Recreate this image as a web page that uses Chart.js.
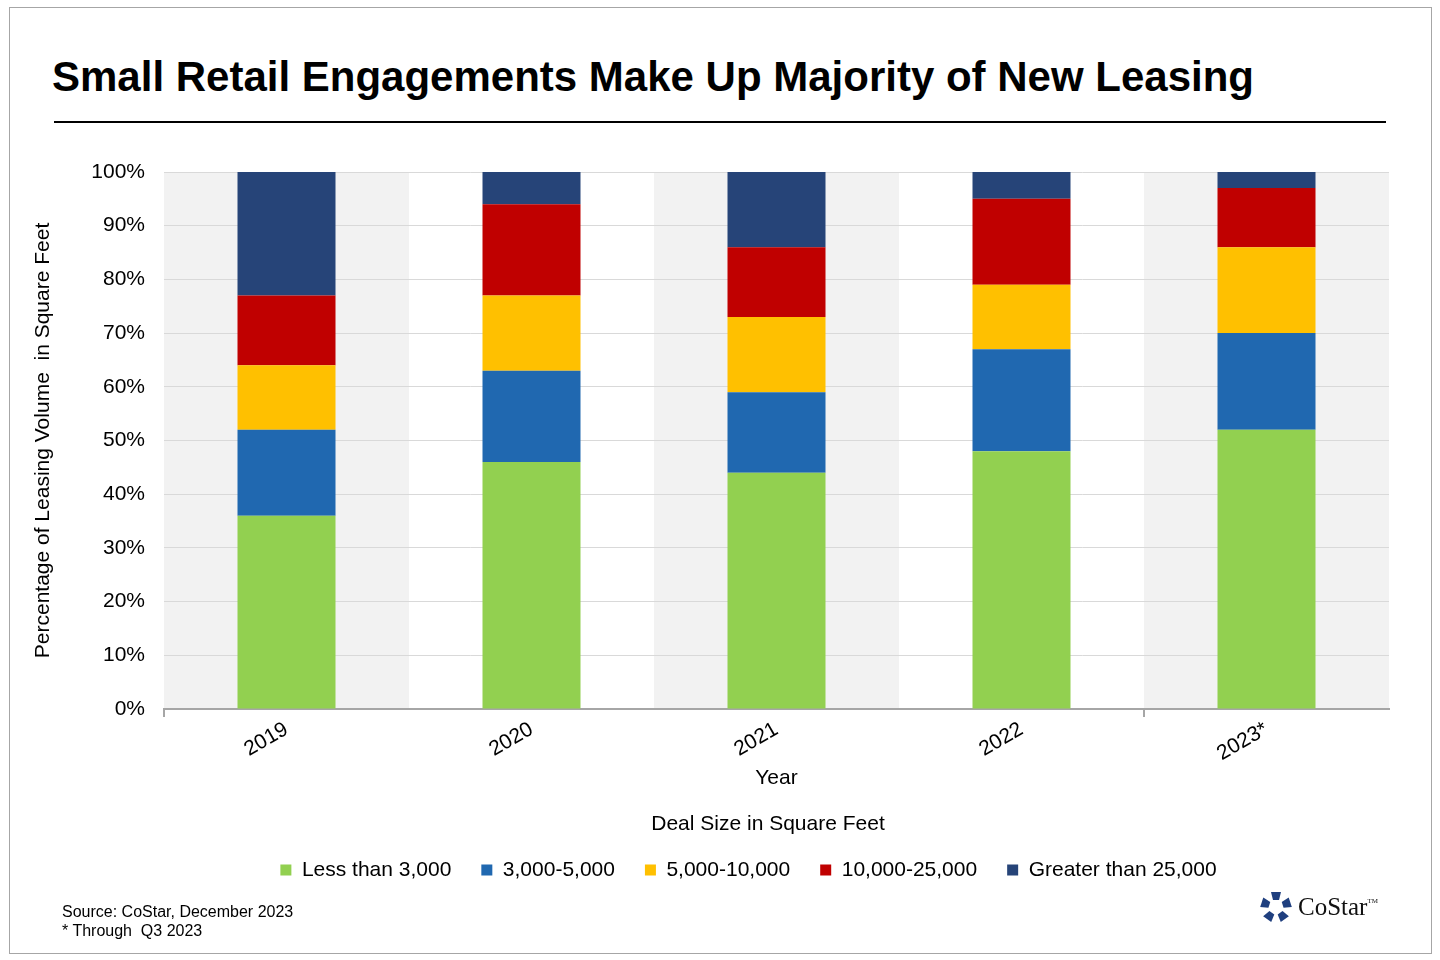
<!DOCTYPE html>
<html>
<head>
<meta charset="utf-8">
<title>Small Retail Engagements</title>
<script src="https://cdn.jsdelivr.net/npm/chart.js@4.4.0/dist/chart.umd.min.js"></script>
<style>
  body { margin: 0; width: 1440px; height: 960px; background: #fff; font-family: "Liberation Sans", Arial, sans-serif; position: relative; overflow: hidden; }
  .frame { position: absolute; left: 9px; top: 7px; width: 1421px; height: 945px; border: 1px solid #a6a6a6; }
  h1 { position: absolute; left: 52px; top: 56px; margin: 0; font-size: 42px; line-height: 1; font-weight: bold; color: #000; white-space: nowrap; }
  .rule { position: absolute; left: 54px; top: 121px; width: 1332px; height: 2px; background: #000; }
  #wrap { position: absolute; left: 0; top: 150px; width: 1440px; height: 770px; }
  .legend-title { position: absolute; left: 568px; width: 400px; top: 810px; text-align: center; font-size: 21px; line-height: 26px; color: #000; }
  .note { position: absolute; left: 62px; font-size: 16px; color: #000; white-space: nowrap; }
  .logo { position: absolute; left: 1260px; top: 890px; height: 34px; display: flex; align-items: center; }
  .logo span { font-family: "Liberation Serif", "Times New Roman", serif; font-size: 25px; color: #111; margin-left: 6px; }
  .logo sup { font-size: 7px; vertical-align: 12px; }
</style>
</head>
<body>
<div class="frame"></div>
<h1>Small Retail Engagements Make Up Majority of New Leasing</h1>
<div class="rule"></div>
<div id="wrap"><canvas id="grafico"></canvas></div>
<div class="legend-title">Deal Size in Square Feet</div>
<div class="note" style="top:903px">Source: CoStar, December 2023</div>
<div class="note" style="top:922px">* Through&nbsp; Q3 2023</div>
<div class="logo">
  <svg width="32" height="32" viewBox="-16 -16 32 32">
    <g fill="#1f3f7f">
      <polygon points="-5,-15 5,-15 3,-7 -3,-7" transform="rotate(0)"/>
      <polygon points="-5,-15 5,-15 3,-7 -3,-7" transform="rotate(72)"/>
      <polygon points="-5,-15 5,-15 3,-7 -3,-7" transform="rotate(144)"/>
      <polygon points="-5,-15 5,-15 3,-7 -3,-7" transform="rotate(216)"/>
      <polygon points="-5,-15 5,-15 3,-7 -3,-7" transform="rotate(288)"/>
    </g>
  </svg>
  <span>CoStar<sup>TM</sup></span>
</div>

<script>
// Dados do gráfico (percentual do volume de locação)
const anos = ["2019", "2020", "2021", "2022", "2023*"];
const faixas = ["Less than 3,000", "3,000-5,000", "5,000-10,000", "10,000-25,000", "Greater than 25,000"];
const menosDe3000 = [36, 46, 44, 48, 52];
const de3000a5000 = [16, 17, 15, 19, 18];
const de5000a10000 = [12, 14, 14, 12, 16];
const de10000a25000 = [13, 17, 13, 16, 11];
const maisDe25000 = [23, 6, 14, 5, 3];
const ticksY = [0, 10, 20, 30, 40, 50, 60, 70, 80, 90, 100];

const cores = ["#92d050", "#2068b0", "#ffc000", "#c00000", "#264478"];
const valores = [menosDe3000, de3000a5000, de5000a10000, de10000a25000, maisDe25000];

Chart.defaults.font.family = '"Liberation Sans", Arial, sans-serif';
Chart.defaults.color = "#000";

// Faixas cinzas alternadas atrás das barras
const faixasFundo = {
  id: "faixasFundo",
  beforeDraw(chart) {
    const x = chart.scales.x;
    const area = chart.chartArea;
    const ctx = chart.ctx;
    const largura = (area.right - area.left) / anos.length;
    ctx.save();
    ctx.fillStyle = "#f2f2f2";
    anos.forEach((a, i) => {
      if (i % 2 === 0) {
        const centro = x.getPixelForValue(i);
        ctx.fillRect(centro - largura / 2, area.top, largura, area.bottom - area.top);
      }
    });
    ctx.restore();
  }
};

const ctx = document.getElementById("grafico").getContext("2d");
new Chart(ctx, {
  type: "bar",
  data: {
    labels: anos,
    datasets: faixas.map((f, i) => ({
      label: f,
      data: valores[i],
      backgroundColor: cores[i],
      borderWidth: 0,
      barPercentage: 0.5,
      categoryPercentage: 0.8
    }))
  },
  options: {
    responsive: true,
    maintainAspectRatio: false,
    animation: false,
    layout: { padding: { left: 88, right: 31, top: 22, bottom: 29.5 } },
    plugins: {
      tooltip: { enabled: false },
      legend: {
        position: "bottom",
        labels: { boxWidth: 11, boxHeight: 11, padding: 30, font: { size: 21 }, color: "#000" }
      }
    },
    scales: {
      x: {
        stacked: true,
        afterFit(scale) { scale.height = 120.5; },
        grid: {
          offset: true,
          drawOnChartArea: false,
          tickLength: 8,
          lineWidth: 2,
          color: c => (c.index === 0 || c.index === 4) ? "#a6a6a6" : "rgba(0,0,0,0)"
        },
        border: { display: true, color: "#a6a6a6", width: 2 },
        ticks: { maxRotation: 30, minRotation: 30, font: { size: 21 }, color: "#000", padding: 0 },
        title: { display: true, text: "Year", font: { size: 21 }, color: "#000", padding: { top: 0, bottom: 39 } }
      },
      y: {
        stacked: true,
        min: 0,
        max: 100,
        afterFit(scale) { scale.width = 76; },
        afterBuildTicks(scale) { scale.ticks = ticksY.map(v => ({ value: v })); },
        grid: { color: "#d9d9d9", lineWidth: 1, drawTicks: true, tickLength: 19, tickColor: "rgba(0,0,0,0)" },
        border: { display: false },
        ticks: { callback: v => v + "%", font: { size: 21 }, color: "#000", padding: 0 },
        title: {
          display: true,
          text: "Percentage of Leasing Volume  in Square Feet",
          font: { size: 21 },
          color: "#000",
          padding: { top: -57.6, bottom: 0 }
        }
      },
      // eixo vazio à direita só para reservar espaço
      direita: {
        position: "right",
        display: true,
        afterFit(scale) { scale.width = 20; },
        grid: { display: false },
        border: { display: false },
        ticks: { display: false }
      }
    }
  },
  plugins: [faixasFundo]
});
</script>
</body>
</html>
